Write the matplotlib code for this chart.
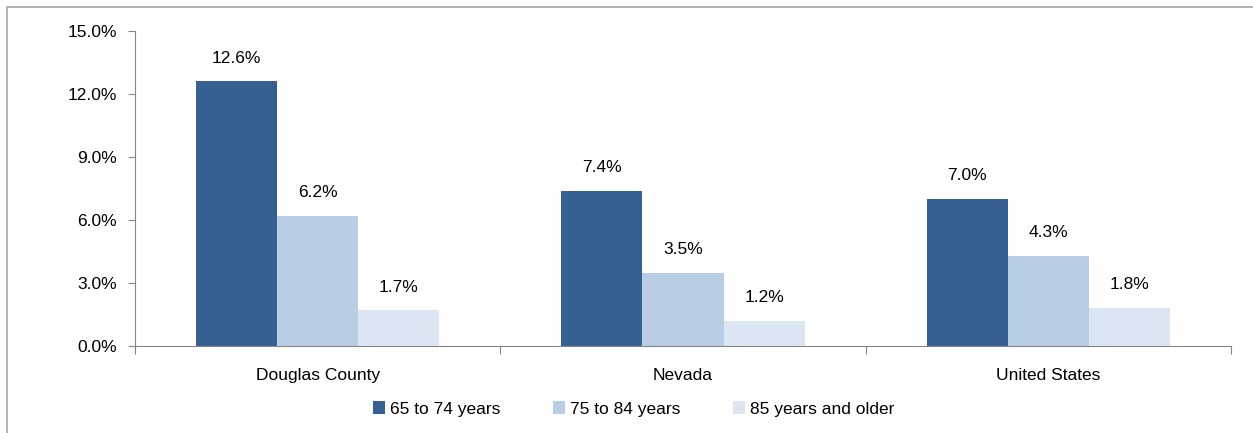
import numpy as np
import matplotlib.pyplot as plt
from matplotlib.patches import Rectangle
from matplotlib.ticker import FuncFormatter, MultipleLocator

# data
regions = ['Douglas County', 'Nevada', 'United States']
age_groups = ['65 to 74 years', '75 to 84 years', '85 years and older']
pct_65_74 = [12.6, 7.4, 7.0]
pct_75_84 = [6.2, 3.5, 4.3]
pct_85_up = [1.7, 1.2, 1.8]
colors = ['#376092', '#B9CDE5', '#DCE6F2']

plt.rcParams['font.family'] = ['Liberation Sans', 'DejaVu Sans']
plt.rcParams['font.size'] = 12.5

fig = plt.figure(figsize=(12.53, 4.33), dpi=100)
ax = fig.add_axes([135/1253, 1 - 346/433, (1231-135)/1253, (346-31)/433])

# outer frame like the original
fig.patches.append(Rectangle((7/1253, -0.1), 1.2, 1 - 7/433 + 0.1, transform=fig.transFigure,
                             fill=False, edgecolor='#A6A6A6', linewidth=1.2))

x = np.arange(len(regions))
w = 81/365
series = [pct_65_74, pct_75_84, pct_85_up]
for i, (vals, lab, c) in enumerate(zip(series, age_groups, colors)):
    bars = ax.bar(x + (i - 1) * w, vals, w, color=c, label=lab)
    for b, v in zip(bars, vals):
        ax.text(b.get_x() + b.get_width()/2, v + 0.75, f'{v:.1f}%', ha='center', va='bottom')

ax.set_xlim(-0.5, 2.5)
ax.set_ylim(0, 15)
ax.yaxis.set_major_locator(MultipleLocator(3))
ax.yaxis.set_major_formatter(FuncFormatter(lambda v, p: f'{v:.1f}%'))

ax.set_xticks([-0.5, 0.5, 1.5, 2.5])
ax.set_xticklabels([])
ax.set_xticks(x, minor=True)
ax.set_xticklabels(regions, minor=True)
ax.tick_params(axis='x', which='minor', length=0, pad=16)
ax.tick_params(axis='x', which='major', length=6, color='#868686')
ax.tick_params(axis='y', length=5, color='#868686', pad=8)

for s in ['top', 'right']:
    ax.spines[s].set_visible(False)
ax.spines['left'].set_color('#868686')
ax.spines['bottom'].set_color('#868686')

ax.legend(loc='center', bbox_to_anchor=(0.455, -0.2), ncol=3, frameon=False,
          handlelength=0.7, handleheight=0.7, handletextpad=0.3, columnspacing=3.0)

plt.savefig('out.png', dpi=100)
